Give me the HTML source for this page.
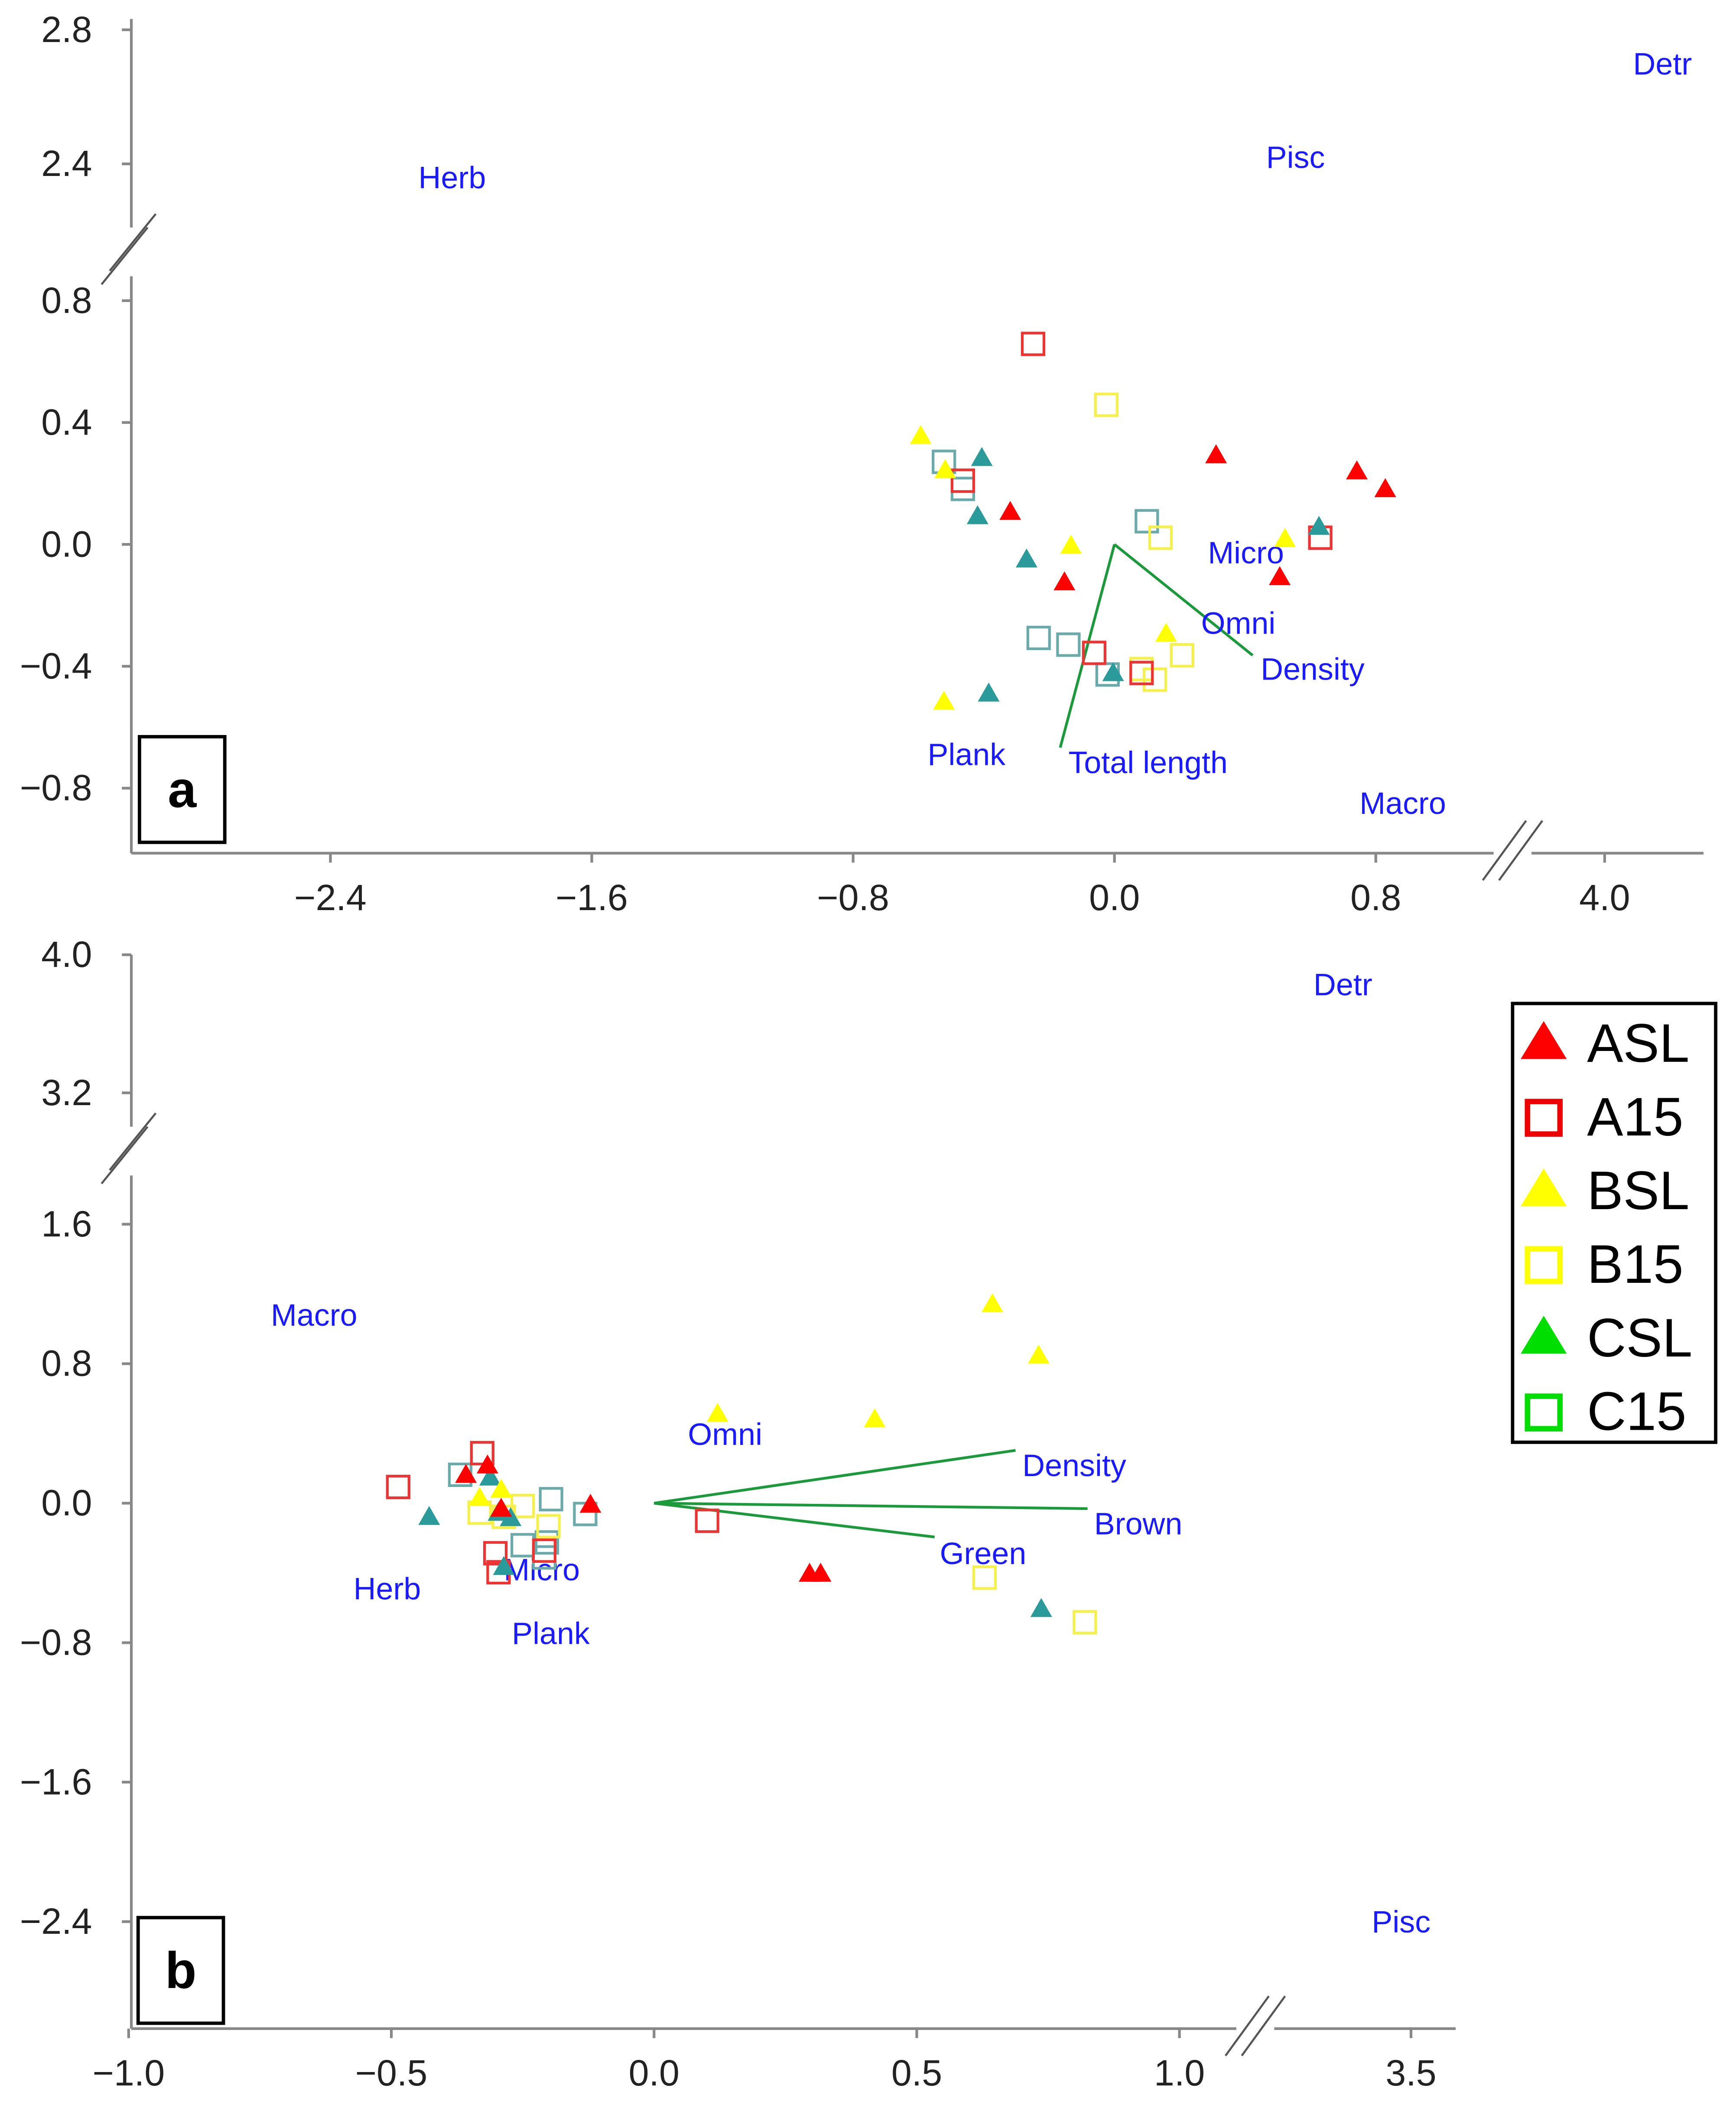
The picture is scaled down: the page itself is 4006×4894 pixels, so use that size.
<!DOCTYPE html>
<html><head><meta charset="utf-8"><style>
html,body{margin:0;padding:0;background:#fff}
svg{display:block}
text{font-family:"Liberation Sans",sans-serif}
.tick{font-size:27px;fill:#222}
.lab{font-size:23px;fill:#1a1aff}
</style></head><body>
<svg id="chart" width="4006" height="4894" viewBox="0 0 1282 1566.2" preserveAspectRatio="none" xmlns="http://www.w3.org/2000/svg">
<g id="pa"></g>
<g id="pb"></g>
<g id="legend">
<rect x="1117" y="741" width="150" height="324" fill="#fff" stroke="#000" stroke-width="2.5"/>
</g>
</svg>
<script>
// ---------- Panel a data ----------
const aXTicks = [-2.4, -1.6, -0.8, 0.0, 0.8, 4.0];
const aXTickLabels = ["\u22122.4","\u22121.6","\u22120.8","0.0","0.8","4.0"];
const aYTicks = [2.8, 2.4, 0.8, 0.4, 0.0, -0.4, -0.8];
const aYTickLabels = ["2.8","2.4","0.8","0.4","0.0","\u22120.4","\u22120.8"];
const aASL = [[0.311,0.293],[0.742,0.240],[0.829,0.182],[-0.319,0.107],[-0.153,-0.124],[0.506,-0.107]];
const aA15 = [[-0.249,0.658],[-0.464,0.209],[0.630,0.022],[-0.062,-0.356],[0.083,-0.422]];
const aBSL = [[-0.593,0.356],[-0.518,0.244],[-0.133,-0.004],[0.522,0.018],[0.158,-0.293],[-0.522,-0.516]];
const aB15 = [[-0.025,0.458],[0.141,0.022],[0.207,-0.364],[0.124,-0.444],[0.083,-0.409]];
const aCSL = [[-0.406,0.284],[-0.419,0.093],[-0.269,-0.049],[0.626,0.058],[-0.004,-0.422],[-0.385,-0.489]];
const aC15 = [[-0.522,0.271],[-0.464,0.182],[0.099,0.076],[-0.232,-0.307],[-0.141,-0.329],[-0.021,-0.427]];
const aVectorNames = ["Total length","Density"];
const aVectorEnds = [[-0.166,-0.667],[0.423,-0.364]];

// ---------- Panel b data ----------
const bXTicks = [-1.0,-0.5,0.0,0.5,1.0,3.5];
const bXTickLabels = ["\u22121.0","\u22120.5","0.0","0.5","1.0","3.5"];
const bYTicks = [4.0,3.2,1.6,0.8,0.0,-0.8,-1.6,-2.4];
const bYTickLabels = ["4.0","3.2","1.6","0.8","0.0","\u22120.8","\u22121.6","\u22122.4"];
const bASL = [[-0.358,0.163],[-0.317,0.217],[-0.291,-0.031],[-0.121,-0.008],[0.296,-0.404],[0.317,-0.404]];
const bA15 = [[-0.327,0.287],[-0.487,0.093],[0.101,-0.101],[-0.302,-0.287],[-0.296,-0.396],[-0.209,-0.272]];
const bBSL = [[-0.332,0.031],[-0.291,0.078],[0.121,0.513],[0.420,0.482],[0.644,1.142],[0.732,0.847]];
const bB15 = [[-0.332,-0.054],[-0.250,-0.016],[-0.201,-0.132],[0.629,-0.427],[0.820,-0.683],[-0.286,-0.078]];
const bCSL = [[-0.428,-0.078],[-0.312,0.148],[-0.296,-0.054],[-0.273,-0.085],[-0.286,-0.365],[0.737,-0.606]];
const bC15 = [[-0.369,0.163],[-0.196,0.023],[-0.131,-0.062],[-0.250,-0.241],[-0.204,-0.225],[-0.209,-0.311]];
const bVectorNames = ["Density","Brown","Green"];
const bVectorEnds = [[0.688,0.303],[0.825,-0.031],[0.534,-0.194]];

const legendNames = ["ASL","A15","BSL","B15","CSL","C15"];

const NS="http://www.w3.org/2000/svg";
function mk(tag,attrs,parent){const e=document.createElementNS(NS,tag);for(const k in attrs)e.setAttribute(k,attrs[k]);parent.appendChild(e);return e;}

// scales
const ax = v => v>=3 ? 1185+(v-4)*241.25 : 823+v*241.25;
const ay = v => v>=2 ? 121-(v-2.4)*247.5 : 402-v*225;
const bx = v => v>=3 ? 1042+(v-3.5)*388 : 483+v*388;
const by = v => v>=2.5 ? 807-(v-3.2)*127.5 : 1110-v*128.75;

const STY = {
 ASL:{t:"tri",c:"#ff0000"}, A15:{t:"sq",c:"#ee3333"},
 BSL:{t:"tri",c:"#ffff00"}, B15:{t:"sq",c:"#f5f04a"},
 CSL:{t:"tri",c:"#2a9a9a"}, C15:{t:"sq",c:"#6aaaaa"}
};
function marker(g,kind,px,py,s){
  const st=STY[kind];
  let el;
  if(st.t==="tri"){
    el=mk("polygon",{points:`${px},${py-8*s} ${px-8*s},${py+6*s} ${px+8*s},${py+6*s}`,fill:st.c},g);
  } else {
    el=mk("rect",{x:px-8*s,y:py-8*s,width:16*s,height:16*s,fill:"none",stroke:st.c,"stroke-width":2*s},g);
  }
  return el;
}

function drawPanel(g,cfg){
  const axc="#888";
  const yAxis=mk("line",{x1:cfg.axX,y1:cfg.yTop,x2:cfg.axX,y2:cfg.axY,stroke:axc,"stroke-width":2},g);
  
  
  const xAxis=mk("line",{x1:cfg.axX,y1:cfg.axY,x2:cfg.xRight,y2:cfg.axY,stroke:axc,"stroke-width":2},g);
  
  
  const yb=cfg.yBreak, xb=cfg.xBreak;
  const yBr=mk("rect",{x:cfg.axX-4,y:yb-18,width:8,height:36,fill:"#fff"},g);
  
  
  mk("line",{x1:cfg.axX-16,y1:yb+14,x2:cfg.axX+18,y2:yb-28,stroke:"#555","stroke-width":1.5},g);
  mk("line",{x1:cfg.axX-22,y1:yb+24,x2:cfg.axX+12,y2:yb-18,stroke:"#555","stroke-width":1.5},g);
  const xBr=mk("rect",{x:xb-14,y:cfg.axY-4,width:28,height:8,fill:"#fff"},g);
  
  
  mk("line",{x1:xb-22,y1:cfg.axY+20,x2:xb+10,y2:cfg.axY-24,stroke:"#555","stroke-width":1.5},g);
  mk("line",{x1:xb-10,y1:cfg.axY+20,x2:xb+22,y2:cfg.axY-24,stroke:"#555","stroke-width":1.5},g);
  cfg.xTicks.forEach((v,i)=>{
    const px=cfg.sx(v);
    mk("line",{x1:px,y1:cfg.axY,x2:px,y2:cfg.axY+7,stroke:axc,"stroke-width":2},g);
    const t=mk("text",{x:px,y:cfg.axY+cfg.xLabOff,"text-anchor":"middle",class:"tick"},g);
    t.textContent=cfg.xTickLabels[i];
    
    
  });
  cfg.yTicks.forEach((v,i)=>{
    const py=cfg.sy(v);
    mk("line",{x1:cfg.axX-7,y1:py,x2:cfg.axX,y2:py,stroke:axc,"stroke-width":2},g);
    const t=mk("text",{x:cfg.axX-29,y:py+9,"text-anchor":"end",class:"tick"},g);
    t.textContent=cfg.yTickLabels[i];
    
    
  });
  const ox=cfg.sx(0), oy=cfg.sy(0);
  cfg.vEnds.forEach((e,i)=>{
    const l=mk("line",{x1:ox,y1:oy,x2:cfg.sx(e[0]),y2:cfg.sy(e[1]),stroke:"#1a9a3a","stroke-width":2},g);
    
    
  });
  cfg.labels.forEach(L=>{
    const t=mk("text",{x:L[1],y:L[2],class:"lab"},g);
    t.textContent=L[0];
    
    
  });
  const series=[["C15",cfg.C15],["B15",cfg.B15],["A15",cfg.A15],["CSL",cfg.CSL],["BSL",cfg.BSL],["ASL",cfg.ASL]];
  series.forEach(([k,arr])=>{
    arr.forEach(p=>{
      const m=marker(g,k,cfg.sx(p[0]),cfg.sy(p[1]),1);
      
      
    });
  });
  const bx0=cfg.box[0], by0=cfg.box[1];
  const r=mk("rect",{x:bx0,y:by0,width:63,height:78,fill:"#fff",stroke:"#000","stroke-width":2.5},g);
  
  
  const t=mk("text",{x:bx0+31.5,y:by0+52,"text-anchor":"middle","font-size":"38","font-weight":"bold",fill:"#000"},g);
  t.textContent=cfg.letter;
  
  
}

drawPanel(document.getElementById("pa"),{
  sx:ax, sy:ay, axX:97, axY:630, yTop:14, xRight:1258, yBreak:186, xBreak:1117, xLabOff:42,
  xTicks:aXTicks,xTickLabels:aXTickLabels,yTicks:aYTicks,yTickLabels:aYTickLabels,
  ASL:aASL,A15:aA15,BSL:aBSL,B15:aB15,CSL:aCSL,C15:aC15,
  vNames:aVectorNames,vEnds:aVectorEnds,
  labels:[["Herb",309,139],["Pisc",935,124],["Detr",1206,55],["Micro",892,416],["Omni",887,468],["Density",931,502],["Total length",789,571],["Plank",685,565],["Macro",1004,601]],
  box:[103,544], letter:"a"
});
drawPanel(document.getElementById("pb"),{
  sx:bx, sy:by, axX:97, axY:1498, yTop:705, xRight:1075, yBreak:850, xBreak:927, xLabOff:42,
  xTicks:bXTicks,xTickLabels:bXTickLabels,yTicks:bYTicks,yTickLabels:bYTickLabels,
  ASL:bASL,A15:bA15,BSL:bBSL,B15:bB15,CSL:bCSL,C15:bC15,
  vNames:bVectorNames,vEnds:bVectorEnds,
  labels:[["Macro",200,979],["Omni",508,1067],["Density",755,1090],["Brown",808,1133],["Green",694,1155],["Micro",372,1167],["Herb",261,1181],["Plank",378,1214],["Detr",970,735],["Pisc",1013,1427]],
  box:[102,1416], letter:"b"
});

const lg=document.getElementById("legend");
legendNames.forEach((n,i)=>{
  const y=770+i*54.4;
  const st=STY[n];
  let m;
  if(st.t==="tri") m=mk("polygon",{points:`1140,${y-16} 1123,${y+12} 1157,${y+12}`,fill:n==="CSL"?"#00dd00":st.c},lg);
  else m=mk("rect",{x:1128,y:y-11,width:24,height:24,fill:"none",stroke:n==="C15"?"#00dd00":(n==="A15"?"#ee0000":"#ffff00"),"stroke-width":4},lg);
  
  
  const t=mk("text",{x:1172,y:y+14,"font-size":"40",fill:"#000"},lg);
  t.textContent=n;
  
  
});
</script>
</body></html>
